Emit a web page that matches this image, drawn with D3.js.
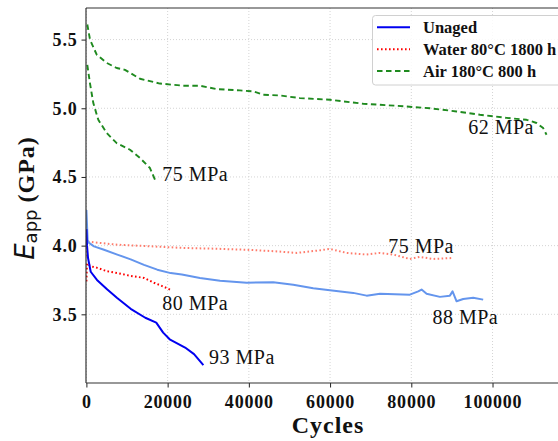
<!DOCTYPE html>
<html>
<head>
<meta charset="utf-8">
<script src="https://cdn.jsdelivr.net/npm/d3@7"></script>
<style>
  html, body { margin: 0; padding: 0; background: #fff; }
  svg { display: block; }
</style>
</head>
<body>
<svg id="chart" width="558" height="441"></svg>
<script>
// ---------- data ----------
const xTicks = [0, 20000, 40000, 60000, 80000, 100000];
const yTicks = [3.5, 4.0, 4.5, 5.0, 5.5];

const legendLabels = ["Unaged", "Water 80°C 1800 h", "Air 180°C 800 h"];

// Unaged, 93 MPa
const unaged93X = [0, 150, 400, 1060, 2600, 5150, 7500, 10900, 14500, 17200, 18900, 20500, 24300, 26500, 28800];
const unaged93Y = [4.12, 4.0, 3.91, 3.81, 3.75, 3.68, 3.62, 3.54, 3.475, 3.44, 3.367, 3.318, 3.258, 3.21, 3.13];

// Unaged, 88 MPa
const unaged88X = [0, 150, 300, 640, 1870, 4330, 7600, 10900, 14180, 17450, 20750, 23500, 27960, 32900, 39460, 46000, 50930, 55850, 59960, 65700, 69000, 72300, 79650, 81700, 82530, 83760, 87040, 89500, 90160, 91150, 92780, 95240, 97700];
const unaged88Y = [4.26, 4.15, 4.04, 4.02, 3.995, 3.97, 3.935, 3.90, 3.86, 3.825, 3.80, 3.79, 3.765, 3.745, 3.73, 3.733, 3.716, 3.69, 3.675, 3.656, 3.636, 3.65, 3.643, 3.667, 3.68, 3.65, 3.627, 3.636, 3.667, 3.595, 3.612, 3.62, 3.607];

// Water 80°C 1800 h, 80 MPa
const water80X = [0, 60, 150, 1060, 2680, 5150, 7600, 10900, 14180, 16640, 19100, 20580];
const water80Y = [3.74, 3.80, 3.87, 3.85, 3.838, 3.813, 3.80, 3.78, 3.765, 3.73, 3.70, 3.68];

// Water 80°C 1800 h, 75 MPa
const water75X = [0, 150, 1870, 7600, 15830, 24030, 31240, 39460, 46000, 51770, 57500, 59960, 64080, 69000, 72270, 75550, 79650, 82100, 85400, 90300];
const water75Y = [3.92, 4.03, 4.024, 4.007, 3.995, 3.983, 3.978, 3.97, 3.96, 3.947, 3.966, 3.976, 3.947, 3.935, 3.947, 3.935, 3.903, 3.918, 3.903, 3.91];

// Air 180°C 800 h, 75 MPa
const air75X = [220, 890, 1700, 2930, 5000, 7460, 10730, 13190, 15650, 16890];
const air75Y = [5.316, 5.18, 5.038, 4.916, 4.82, 4.746, 4.698, 4.638, 4.565, 4.48];

// Air 180°C 800 h, 62 MPa
const air62X = [220, 890, 2540, 5000, 7460, 9500, 13190, 18100, 23850, 27960, 32070, 37800, 41080, 43540, 47400, 52580, 59960, 68160, 76380, 84580, 91150, 96890, 103460, 108380, 110840, 112470, 113300];
const air62Y = [5.61, 5.50, 5.39, 5.33, 5.293, 5.28, 5.215, 5.18, 5.164, 5.164, 5.14, 5.13, 5.123, 5.098, 5.094, 5.074, 5.062, 5.033, 5.018, 5.00, 4.977, 4.953, 4.93, 4.916, 4.893, 4.856, 4.807];

const annotations = [
  { text: "75 MPa", x: 18700, y: 4.47 },
  { text: "62 MPa", x: 94000, y: 4.81 },
  { text: "75 MPa", x: 74300, y: 3.95 },
  { text: "80 MPa", x: 18700, y: 3.535 },
  { text: "88 MPa", x: 85200, y: 3.43 },
  { text: "93 MPa", x: 30200, y: 3.14 }
];

// ---------- layout ----------
const svg = d3.select("#chart");
const M = { left: 86, top: 8, right: 564, bottom: 383 };

const x = d3.scaleLinear().domain([-100, 117600]).range([M.left, M.right]);
const y = d3.scaleLinear().domain([3.0, 5.73]).range([M.bottom, M.top]);

const boldSerif = "'Liberation Serif', 'Times New Roman', serif";

// clip
svg.append("defs").append("clipPath").attr("id", "clip")
  .append("rect").attr("x", M.left).attr("y", M.top)
  .attr("width", M.right - M.left).attr("height", M.bottom - M.top);

// grid
const grid = svg.append("g");
grid.selectAll(".gx").data(xTicks).join("line")
  .attr("x1", d => x(d)).attr("x2", d => x(d))
  .attr("y1", M.top).attr("y2", M.bottom)
  .attr("stroke", "#cfcfcf").attr("stroke-width", 0.9).attr("stroke-dasharray", "1,2");
grid.selectAll(".gy").data(yTicks).join("line")
  .attr("x1", M.left).attr("x2", M.right)
  .attr("y1", d => y(d)).attr("y2", d => y(d))
  .attr("stroke", "#cfcfcf").attr("stroke-width", 0.9).attr("stroke-dasharray", "1,2");

// series
const series = [
  { xs: water75X, ys: water75Y, color: "#ff7b6b", width: 2, dash: "1.6,2.4" },
  { xs: water80X, ys: water80Y, color: "#ff0000", width: 2, dash: "1.6,2.4" },
  { xs: unaged88X, ys: unaged88Y, color: "#6495ED", width: 2, dash: null },
  { xs: unaged93X, ys: unaged93Y, color: "#0000f0", width: 2, dash: null },
  { xs: air75X, ys: air75Y, color: "#1f8a1f", width: 1.9, dash: "5.5,3.5" },
  { xs: air62X, ys: air62Y, color: "#1f8a1f", width: 1.9, dash: "5.5,3.5" }
];
const line = d3.line().x(d => x(d[0])).y(d => y(d[1]));
const plot = svg.append("g").attr("clip-path", "url(#clip)");
series.forEach(s => {
  const pts = s.xs.map((v, i) => [v, s.ys[i]]);
  plot.append("path").datum(pts)
    .attr("d", line)
    .attr("fill", "none")
    .attr("stroke", s.color)
    .attr("stroke-width", s.width)
    .attr("stroke-linejoin", "round")
    .attr("stroke-dasharray", s.dash);
});

// annotations
svg.append("g").selectAll("text").data(annotations).join("text")
  .attr("x", d => x(d.x)).attr("y", d => y(d.y))
  .attr("font-family", "'Liberation Serif', serif")
  .attr("font-size", 20).attr("letter-spacing", 0.5)
  .attr("fill", "#111")
  .text(d => d.text);

// axes
const xAxis = d3.axisBottom(x).tickValues(xTicks).tickFormat(d3.format("d")).tickSize(4.5).tickPadding(4);
const yAxis = d3.axisLeft(y).tickValues(yTicks).tickFormat(d3.format(".1f")).tickSize(4.5).tickPadding(4);

const gx = svg.append("g").attr("transform", `translate(0,${M.bottom})`).call(xAxis);
const gy = svg.append("g").attr("transform", `translate(${M.left},0)`).call(yAxis);
[gx, gy].forEach(g => {
  g.select(".domain").remove();
  g.selectAll(".tick line").attr("stroke", "#222").attr("stroke-width", 1);
  g.selectAll(".tick text")
    .attr("font-family", boldSerif).attr("font-weight", "bold")
    .attr("font-size", 18).attr("letter-spacing", 0.8).attr("fill", "#111");
});
gx.selectAll(".tick text").attr("dy", "0.9em");

// spines
const sp = svg.append("g").attr("stroke", "#333").attr("stroke-width", 1.2).attr("fill", "none");
sp.append("line").attr("x1", M.left).attr("x2", M.left).attr("y1", M.top).attr("y2", M.bottom);
sp.append("line").attr("x1", M.left).attr("x2", M.right).attr("y1", M.bottom).attr("y2", M.bottom);
sp.append("line").attr("x1", M.left).attr("x2", M.right).attr("y1", M.top).attr("y2", M.top);
sp.append("line").attr("x1", M.right).attr("x2", M.right).attr("y1", M.top).attr("y2", M.bottom);

// axis titles
svg.append("text")
  .attr("x", 328).attr("y", 433)
  .attr("text-anchor", "middle")
  .attr("font-family", boldSerif).attr("font-weight", "bold")
  .attr("font-size", 24).attr("letter-spacing", 1)
  .attr("fill", "#111")
  .text("Cycles");

const yl = svg.append("text")
  .attr("transform", "translate(34,198) rotate(-90)")
  .attr("text-anchor", "middle")
  .attr("fill", "#111");
yl.append("tspan").attr("font-family", "'DejaVu Sans', sans-serif").attr("font-style", "italic")
  .attr("font-size", 26).text("E");
yl.append("tspan").attr("font-family", "'DejaVu Sans', sans-serif")
  .attr("font-size", 18).attr("dy", 3).text("app");
yl.append("tspan").attr("font-family", boldSerif).attr("font-weight", "bold")
  .attr("font-size", 24).attr("letter-spacing", 1).attr("dy", -3).text("\u00a0(GPa)");

// legend
const lg = svg.append("g");
lg.append("rect")
  .attr("x", 372.5).attr("y", 15.5).attr("width", 190).attr("height", 69.5)
  .attr("rx", 3).attr("fill", "#fff").attr("fill-opacity", 0.85)
  .attr("stroke", "#d0d0d0").attr("stroke-width", 1);
const legendStyles = [
  { color: "#0000f0", dash: null, width: 2 },
  { color: "#ff0000", dash: "1.6,2.4", width: 2 },
  { color: "#1f8a1f", dash: "5.5,3.5", width: 1.9 }
];
const legendY = d3.scalePoint().domain(legendLabels).range([27.3, 71]);
legendLabels.forEach((lab, i) => {
  const yy = legendY(lab);
  lg.append("line").attr("x1", 377).attr("x2", 410).attr("y1", yy).attr("y2", yy)
    .attr("stroke", legendStyles[i].color).attr("stroke-width", legendStyles[i].width)
    .attr("stroke-dasharray", legendStyles[i].dash);
  lg.append("text").attr("x", 423).attr("y", yy + 5.5)
    .attr("font-family", boldSerif).attr("font-weight", "bold")
    .attr("font-size", 16.5).attr("fill", "#111")
    .text(lab);
});
</script>
</body>
</html>
